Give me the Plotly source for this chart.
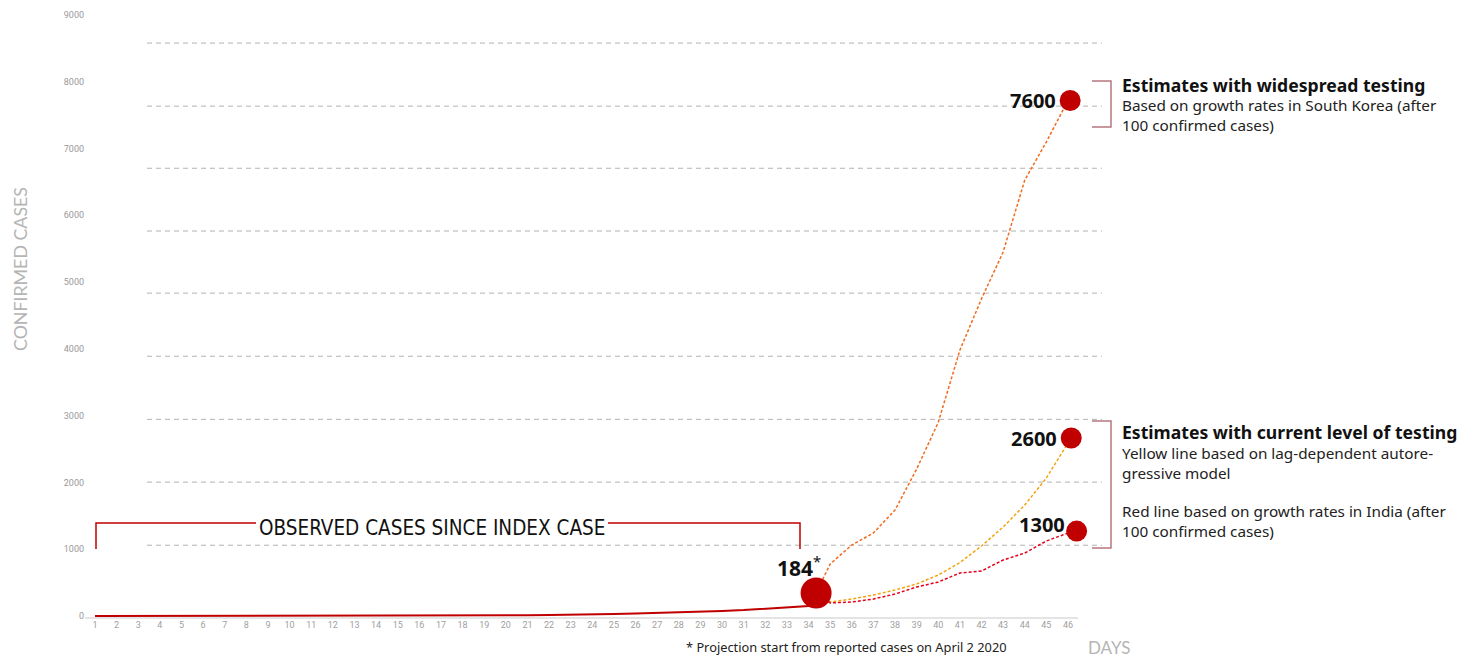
import plotly.graph_objects as go

# ---------------- data ----------------
obs_days = list(range(1, 35)) + [34.35]
obs_cases = [1, 1, 1, 1, 1, 1, 1, 1, 1, 1, 1, 1, 1, 1, 1, 1, 1, 1, 2,
             10, 12, 14, 17, 25, 30, 38, 45, 52, 60, 75, 88, 105, 125, 150, 344]

proj_days = [34.35, 35, 36, 37, 38, 39, 40, 41, 42, 43, 44, 45, 46]
korea_rate = [344, 778, 1063, 1243, 1587, 2200, 2900, 3980, 4750, 5450, 6527, 7100, 7720]
autoreg = [344, 210, 254, 314, 389, 479, 614, 800, 1048, 1332, 1662, 2066, 2590]
india_rate = [344, 195, 210, 254, 329, 434, 509, 644, 674, 838, 943, 1123, 1243]

start_day = [34.35]
start_value = [344]
end_days = [46.1, 46.15, 46.4]
end_values = [7720, 2665, 1272]
end_labels = ["7600", "2600", "1300"]

day_ticks = list(range(1, 47))
y_ticks = [0, 1000, 2000, 3000, 4000, 5000, 6000, 7000, 8000, 9000]
grid_levels = [1060, 2005, 2945, 3890, 4835, 5765, 6705, 7635, 8580]

# ---------------- layout geometry (page pixels; page has 8px body margin) ----------------
OFF = 8
W, H = 1476, 656
L, R, T, B = 85, 1115, 10, 618          # plot area in page px
PX_PER_DAY = 21.622
X0 = 1 - (95 - L) / PX_PER_DAY
X1 = X0 + (R - L) / PX_PER_DAY
PX_PER_UNIT = (616 - 15) / 9000.0
Y0 = -(B - 616) / PX_PER_UNIT
Y1 = (616 - T) / PX_PER_UNIT
PW, PH = R - L, B - T


def qx(px):
    return (px - L) / PW


def qy(py):
    return (B - py) / PH


RED = "#c00000"
fig = go.Figure()

# gridlines (dashed)
for g in grid_levels:
    fig.add_shape(type="line", xref="paper", yref="y", x0=qx(147), x1=qx(1102), y0=g, y1=g,
                  line=dict(color="#b3b3b3", width=1, dash="5px,4px"), layer="below")

# axis baseline
fig.add_shape(type="line", xref="paper", yref="paper", x0=qx(85), x1=qx(1078), y0=qy(618), y1=qy(618),
              line=dict(color="#e4e4e4", width=2), layer="below")

# observed line
fig.add_trace(go.Scatter(x=obs_days, y=obs_cases, mode="lines",
                         line=dict(color=RED, width=2), hoverinfo="skip", cliponaxis=False))
# projections
fig.add_trace(go.Scatter(x=proj_days, y=korea_rate, mode="lines",
                         line=dict(color="#f36a1d", width=1.5, dash="3px,2px"), cliponaxis=False))
fig.add_trace(go.Scatter(x=proj_days, y=autoreg, mode="lines",
                         line=dict(color="#f2a30f", width=1.5, dash="3px,2px"), cliponaxis=False))
fig.add_trace(go.Scatter(x=proj_days, y=india_rate, mode="lines",
                         line=dict(color="#e3001b", width=1.5, dash="3px,2px"), cliponaxis=False))
# markers
fig.add_trace(go.Scatter(x=start_day, y=start_value, mode="markers",
                         marker=dict(color=RED, size=31, line=dict(width=0)), cliponaxis=False))
fig.add_trace(go.Scatter(x=end_days, y=end_values, mode="markers",
                         marker=dict(color=RED, size=21, line=dict(width=0)), cliponaxis=False))


def bracket(points, color):
    d = "M " + " L ".join(f"{qx(a)},{qy(b)}" for a, b in points)
    fig.add_shape(type="path", xref="paper", yref="paper", path=d,
                  line=dict(color=color, width=1.5))


bracket_pink = "#b97680"
bracket([(1092, 81), (1111, 81), (1111, 127), (1092, 127)], bracket_pink)
bracket([(1092, 421), (1111, 421), (1111, 548), (1092, 548)], bracket_pink)
bracket([(96, 549), (96, 523), (256, 523)], RED)
bracket([(608, 523), (800, 523), (800, 549)], RED)

ann = []


def text(px, py, s, size, color="#111", xanchor="left", family="Noto Sans", angle=0):
    ann.append(dict(x=qx(px), y=qy(py), xref="paper", yref="paper", text=s, showarrow=False,
                    xanchor=xanchor, yanchor="middle", textangle=angle, borderpad=0,
                    font=dict(size=size, color=color, family=family)))


# end labels
label_pos = [(1057, 100), (1058, 438), (1066, 524)]
for (px, py), lab in zip(label_pos, end_labels):
    text(px, py, f"<b>{lab}</b>", 20, "#111", "right")
text(776, 566, "<b>184</b><sup>*</sup>", 21, "#111", "left")

# right side texts
text(1121, 85, "<b>Estimates with widespread testing</b>", 17.6, "#111")
text(1121, 105, "Based on growth rates in South Korea (after", 15.3, "#222")
text(1121, 125, "100 confirmed cases)", 15.3, "#222")
text(1121, 432, "<b>Estimates with current level of testing</b>", 17.6, "#111")
text(1121, 453, "Yellow line based on lag-dependent autore-", 15.3, "#222")
text(1121, 473, "gressive model", 15.3, "#222")
text(1121, 511, "Red line based on growth rates in India (after", 15.3, "#222")
text(1121, 531, "100 confirmed cases)", 15.3, "#222")

# observed caption
text(432, 528, "OBSERVED CASES SINCE INDEX CASE", 20.5, "#111", "center",
     family="Liberation Sans Narrow, DejaVu Sans Condensed, Noto Sans")

# footnote & axis titles
text(846, 647, "* Projection start from reported cases on April 2 2020", 12.8, "#222", "center")
text(1087, 647, "DAYS", 17, "#b5b5b5", "left", family="Lato")
text(20, 269, "CONFIRMED CASES", 17.8, "#b5b5b5", "center", family="Lato", angle=-90)

fig.update_layout(
    width=W, height=H,
    margin=dict(l=L - OFF, r=W - (R - OFF), t=T - OFF, b=H - (B - OFF), autoexpand=False),
    paper_bgcolor="white", plot_bgcolor="white",
    showlegend=False,
    annotations=ann,
    xaxis=dict(range=[X0, X1], tickvals=day_ticks, ticktext=[str(d) for d in day_ticks],
               showgrid=False, zeroline=False, showline=False, ticks="",
               tickfont=dict(size=9, color="#a0a0a0", family="Roboto"), fixedrange=True),
    yaxis=dict(range=[Y0, Y1], tickvals=y_ticks, ticktext=[str(v) for v in y_ticks],
               showgrid=False, zeroline=False, showline=False, ticks="",
               tickfont=dict(size=9, color="#999999", family="Roboto"), fixedrange=True),
)

fig.write_html("out.html")
